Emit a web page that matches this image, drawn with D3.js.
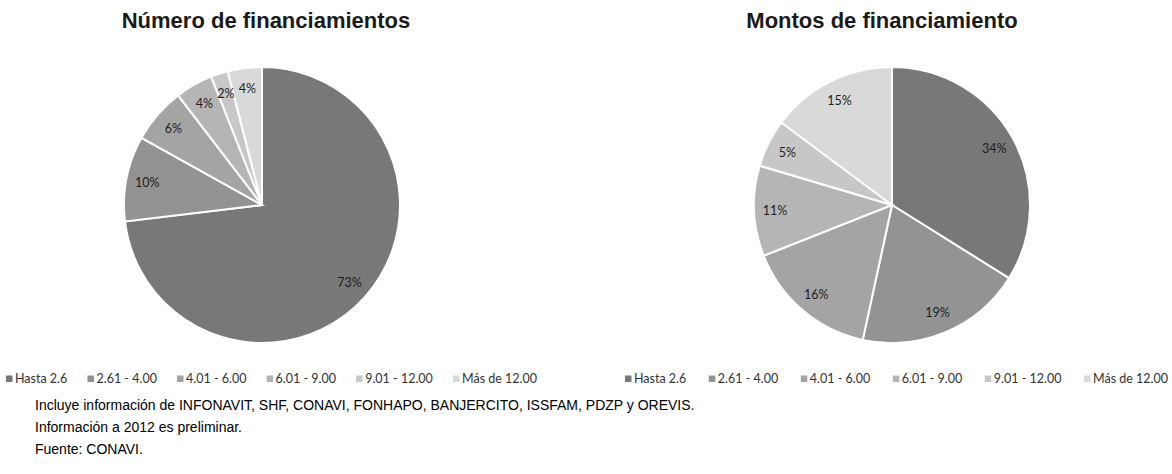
<!DOCTYPE html>
<html>
<head>
<meta charset="utf-8">
<script src="https://cdn.jsdelivr.net/npm/d3@7"></script>
<style>
  html, body { margin: 0; padding: 0; background: #fff; }
  svg { display: block; }
</style>
</head>
<body>
<svg id="chart" width="1172" height="474"></svg>
<script>
// data ---------------------------------------------------------------------
const categories = ["Hasta 2.6", "2.61 - 4.00", "4.01 - 6.00", "6.01 - 9.00", "9.01 - 12.00", "Más de 12.00"];
const numeroValues = [73.1, 10.0, 6.5, 4.4, 2.0, 4.0];   // % of financings
const numeroLabels = ["73%", "10%", "6%", "4%", "2%", "4%"];
const montosValues = [33.9, 19.5, 15.6, 10.6, 5.6, 14.8]; // % of amounts
const montosLabels = ["34%", "19%", "16%", "11%", "5%", "15%"];
const sliceColors = ["#787878", "#939393", "#a4a4a4", "#b5b5b5", "#c7c7c7", "#d9d9d9"];
const notes = [
  "Incluye información de INFONAVIT, SHF, CONAVI, FONHAPO, BANJERCITO, ISSFAM, PDZP y OREVIS.",
  "Información a 2012 es preliminar.",
  "Fuente: CONAVI."
];

const R = 138, LABEL_R = 117;
const svg = d3.select("#chart");

const color = d3.scaleOrdinal().domain(categories).range(sliceColors);
const pie = d3.pie().sort(null).value(d => d.value);
const arc = d3.arc().innerRadius(0).outerRadius(R);
const labelArc = d3.arc().innerRadius(LABEL_R).outerRadius(LABEL_R);

function drawPie(cx, cy, titleX, title, values, labels, legendX, legendW) {
  const rows = categories.map((c, i) => ({ cat: c, value: values[i], label: labels[i] }));

  svg.append("text")
    .attr("x", titleX).attr("y", 28)
    .attr("text-anchor", "middle")
    .attr("font-family", "'Liberation Sans', Arial, sans-serif")
    .attr("font-weight", "bold")
    .attr("font-size", 22)
    .attr("fill", "#1a1a1a")
    .text(title);

  const g = svg.append("g").attr("transform", `translate(${cx},${cy})`);
  const arcs = pie(rows);

  g.selectAll("path")
    .data(arcs).enter()
    .append("path")
    .attr("d", arc)
    .attr("fill", d => color(d.data.cat))
    .attr("stroke", "#fff")
    .attr("stroke-width", 2);

  g.selectAll("text")
    .data(arcs).enter()
    .append("text")
    .attr("transform", d => `translate(${labelArc.centroid(d)})`)
    .attr("text-anchor", "middle")
    .attr("dy", "0.35em")
    .attr("font-family", "Lato, sans-serif")
    .attr("font-size", 12.5)
    .attr("fill", "#1e1e1e")
    .text(d => d.data.label);

  // legend, spread to fit the width the original uses
  const lg = svg.append("g").attr("transform", `translate(${legendX},383)`);
  const items = lg.selectAll("g").data(rows).enter().append("g");
  items.append("rect")
    .attr("y", -7.5).attr("width", 6.5).attr("height", 6.5)
    .attr("fill", d => color(d.cat));
  items.append("text")
    .attr("x", 9)
    .attr("font-family", "Lato, sans-serif")
    .attr("font-size", 12.5)
    .attr("fill", "#333")
    .text(d => d.cat);

  const widths = items.nodes().map(n => 9 + n.querySelector("text").getComputedTextLength());
  const gap = (legendW - d3.sum(widths)) / (rows.length - 1);
  let x = 0;
  items.attr("transform", (d, i) => {
    const t = `translate(${x},0)`;
    x += widths[i] + gap;
    return t;
  });
}

drawPie(262, 205, 266, "Número de financiamientos", numeroValues, numeroLabels, 6, 531);
drawPie(892, 205, 882, "Montos de financiamiento", montosValues, montosLabels, 625, 543);

// footnotes
svg.append("g")
  .selectAll("text")
  .data(notes).enter()
  .append("text")
  .attr("x", 35)
  .attr("y", (d, i) => 410 + i * 22)
  .attr("font-family", "'Liberation Sans', Arial, sans-serif")
  .attr("font-size", 14)
  .attr("fill", "#000")
  .text(d => d);
</script>
</body>
</html>
